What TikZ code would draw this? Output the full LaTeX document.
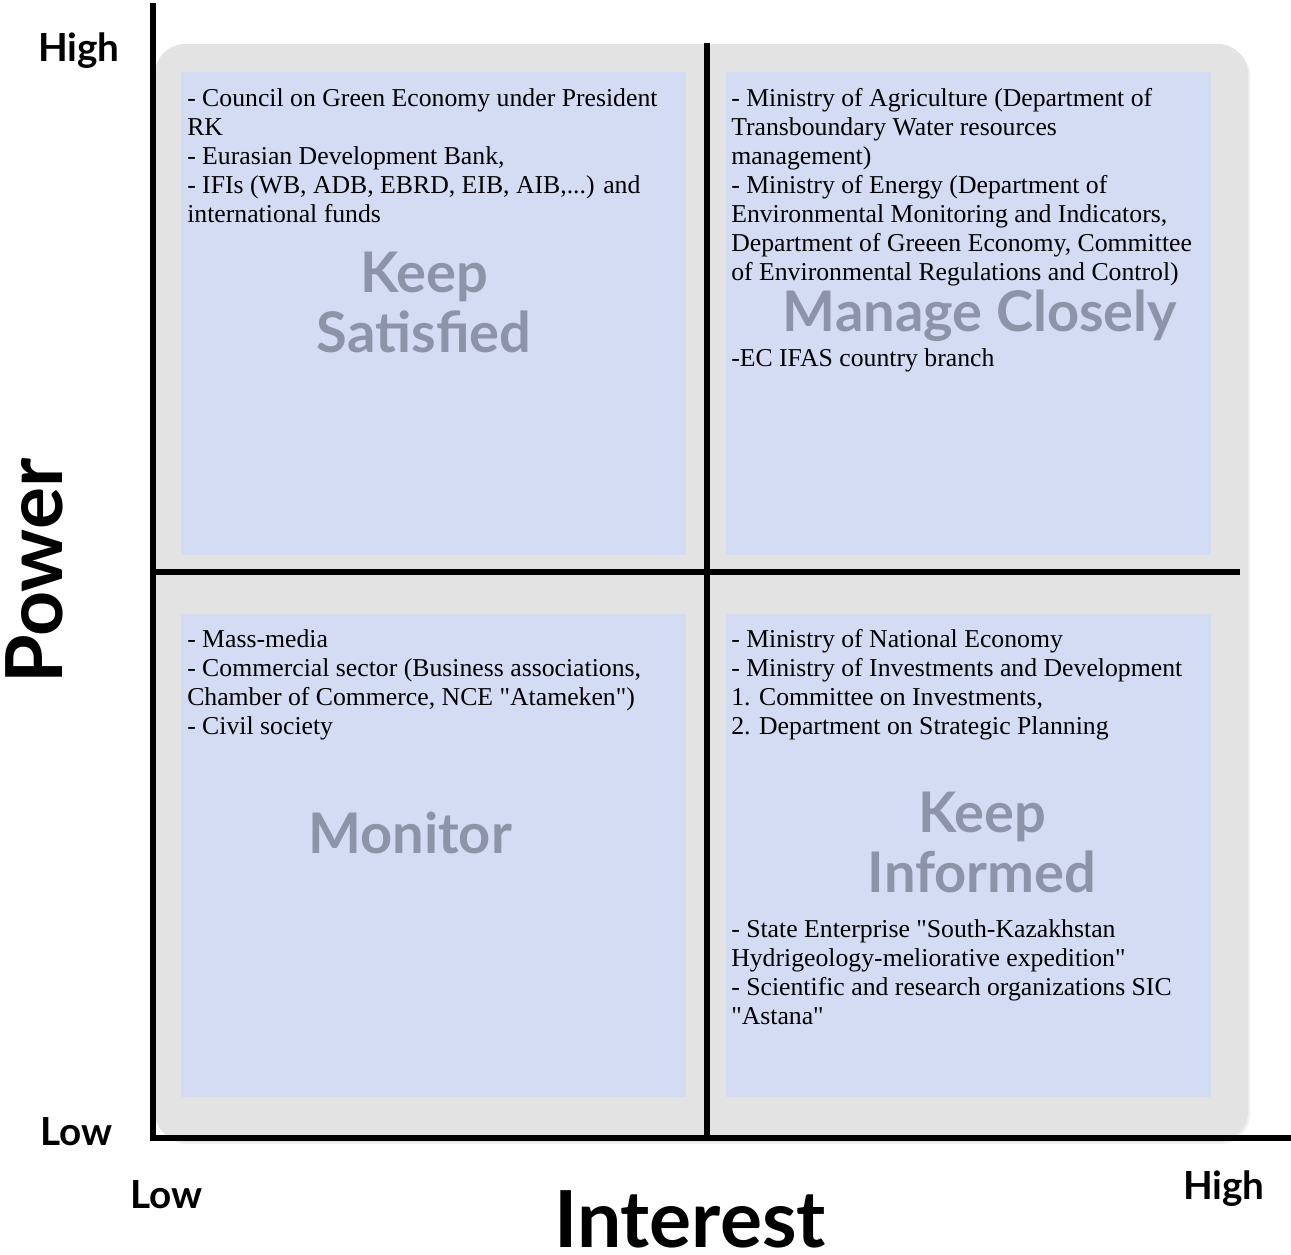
\documentclass[tikz,border=0pt]{standalone}
\usepackage{fontspec}
\setmainfont{Liberation Serif}
\newfontfamily\lbl{Lato}
\usetikzlibrary{shadows}
\definecolor{panelgray}{RGB}{227,227,227}
\definecolor{boxblue}{RGB}{212,220,244}
\definecolor{wmcol}{RGB}{142,148,168}
\newcommand{\qd}{\textquotedbl}
\begin{document}
\begin{tikzpicture}[x=0.75pt,y=-0.75pt,
  quad/.style={fill=boxblue, draw=none, anchor=north west, inner sep=0pt},
  body/.style={anchor=north west, inner sep=0pt, align=left, font=\fontsize{19.3}{21.75}\selectfont},
  wm/.style={text=wmcol, font=\lbl\bfseries\fontsize{42}{45}\selectfont, align=center, inner sep=0pt},
  axlbl/.style={font=\lbl\bfseries\fontsize{29}{32}\selectfont, inner sep=0pt},
  bigl/.style={font=\lbl\bfseries\fontsize{59}{62}\selectfont, inner sep=0pt},
  axisline/.style={line width=4.5pt},
  divider/.style={line width=5pt}]
\useasboundingbox (0,0) rectangle (1291,1254);
% panel
\fill[panelgray, rounded corners=22.5pt, drop shadow={shadow xshift=1.5pt, shadow yshift=-1.5pt, opacity=0.12}] (155,44) rectangle (1248,1142);
% quadrants
\node[quad, minimum width=378.75pt, minimum height=362.25pt] (qtl) at (181,72) {};
\node[quad, minimum width=363.75pt, minimum height=362.25pt] (qtr) at (726,72) {};
\node[quad, minimum width=378.75pt, minimum height=362.25pt] (qbl) at (181,614) {};
\node[quad, minimum width=363.75pt, minimum height=362.25pt] (qbr) at (726,614) {};
% watermarks
\node[wm] (ks) at (424,302) {Keep\\Satisfied};
\node[wm] (mc) at (980,316) {Manage Closely};
\node[wm] (mo) at (410,833) {Monitor};
\node[wm] (ki) at (982,842) {Keep\\Informed};
% texts
\node[body] (ttl) at (187,88) {- Council on Green Economy under President\\RK\\- Eurasian Development Bank,\\- IFIs (WB, ADB, EBRD, EIB, AIB,...) and\\international funds};
\node[body] (ttr) at (731,88) {- Ministry of Agriculture (Department of\\Transboundary Water resources\\management)\\- Ministry of Energy (Department of\\Environmental Monitoring and Indicators,\\Department of Greeen Economy, Committee\\of Environmental Regulations and Control)};
\node[body] (ttr2) at (731,348) {-EC IFAS country branch};
\node[body] (tbl) at (187,629) {- Mass-media\\- Commercial sector (Business associations,\\Chamber of Commerce, NCE \qd Atameken\qd)\\- Civil society};
\node[body] (tbr) at (731,629) {- Ministry of National Economy\\- Ministry of Investments and Development\\1. Committee on Investments,\\2. Department on Strategic Planning};
\node[body] (tbr2) at (731,919) {- State Enterprise \qd South-Kazakhstan\\Hydrigeology-meliorative expedition\qd\\- Scientific and research organizations SIC\\\qd Astana\qd};
% dividers
\coordinate (vt) at (707,43);
\coordinate (vb) at (707,1138);
\coordinate (hl) at (153,572);
\coordinate (hr) at (1240,572);
\draw[divider] (vt) -- (vb);
\draw[divider] (hl) -- (hr);
% axes
\coordinate (ytop) at (153,3);
\coordinate (orig) at (153,1138);
\coordinate (xend) at (1291,1138);
\draw[axisline] (ytop) -- (orig) -- (xend);
% axis labels
\node[axlbl, anchor=base east] (phigh) at (120,61) {High};
\node[axlbl, anchor=base west] (plow) at (40,1145) {Low};
\node[axlbl, anchor=base west] (ilow) at (130,1208) {Low};
\node[axlbl, anchor=base east] (ihigh) at (1265,1199) {High};
\node[bigl, anchor=base] (interest) at (690,1247) {Interest};
\node[bigl, anchor=base, rotate=90] (power) at (62,571) {Power};
\end{tikzpicture}
\end{document}
